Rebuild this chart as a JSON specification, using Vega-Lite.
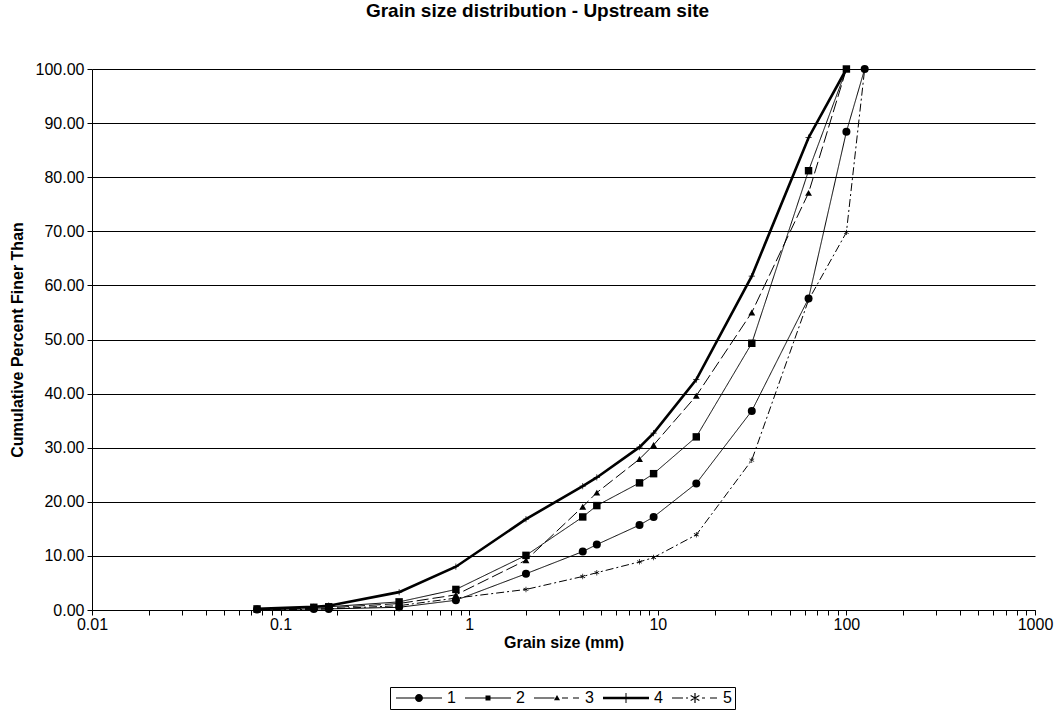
{
  "$schema": "https://vega.github.io/schema/vega-lite/v6.json",
  "width": 943,
  "height": 541,
  "autosize": {"type": "none"},
  "padding": {"left": 92, "top": 69, "right": 19, "bottom": 103},
  "background": "white",
  "config": {
    "font": "Liberation Sans",
    "view": {"stroke": null},
    "axis": {
      "labelFont": "Liberation Sans",
      "labelFontSize": 16,
      "labelColor": "black",
      "tickColor": "black",
      "domainColor": "black",
      "tickSize": 5,
      "labelPadding": 3,
      "titleFont": "Liberation Sans",
      "titleFontSize": 16,
      "titleFontWeight": "bold",
      "titleColor": "black"
    },
    "legend": {"labelFont": "Liberation Sans"}
  },
  "title": {
    "text": "Grain size distribution - Upstream site",
    "font": "Liberation Sans",
    "fontSize": 19,
    "fontWeight": "bold",
    "color": "black",
    "offset": 40,
    "dx": -26
  },
  "data": {
    "values": [
      {"size": 0.075, "series": "1", "pct": 0.1},
      {"size": 0.15, "series": "1", "pct": 0.2},
      {"size": 0.18, "series": "1", "pct": 0.2},
      {"size": 0.425, "series": "1", "pct": 0.5},
      {"size": 0.85, "series": "1", "pct": 1.8},
      {"size": 2, "series": "1", "pct": 6.7},
      {"size": 4, "series": "1", "pct": 10.8},
      {"size": 4.75, "series": "1", "pct": 12.1},
      {"size": 8, "series": "1", "pct": 15.7},
      {"size": 9.5, "series": "1", "pct": 17.2},
      {"size": 16, "series": "1", "pct": 23.4},
      {"size": 31.5, "series": "1", "pct": 36.8},
      {"size": 63, "series": "1", "pct": 57.6},
      {"size": 100, "series": "1", "pct": 88.4},
      {"size": 125, "series": "1", "pct": 100},

      {"size": 0.075, "series": "2", "pct": 0.2},
      {"size": 0.15, "series": "2", "pct": 0.5},
      {"size": 0.18, "series": "2", "pct": 0.6},
      {"size": 0.425, "series": "2", "pct": 1.5},
      {"size": 0.85, "series": "2", "pct": 3.8},
      {"size": 2, "series": "2", "pct": 10.1},
      {"size": 4, "series": "2", "pct": 17.2},
      {"size": 4.75, "series": "2", "pct": 19.3},
      {"size": 8, "series": "2", "pct": 23.5},
      {"size": 9.5, "series": "2", "pct": 25.2},
      {"size": 16, "series": "2", "pct": 32.0},
      {"size": 31.5, "series": "2", "pct": 49.3},
      {"size": 63, "series": "2", "pct": 81.2},
      {"size": 100, "series": "2", "pct": 100},

      {"size": 0.075, "series": "3", "pct": 0.1},
      {"size": 0.15, "series": "3", "pct": 0.3},
      {"size": 0.18, "series": "3", "pct": 0.4},
      {"size": 0.425, "series": "3", "pct": 1.2},
      {"size": 0.85, "series": "3", "pct": 2.8},
      {"size": 2, "series": "3", "pct": 9.2},
      {"size": 4, "series": "3", "pct": 19.1},
      {"size": 4.75, "series": "3", "pct": 21.7},
      {"size": 8, "series": "3", "pct": 27.9},
      {"size": 9.5, "series": "3", "pct": 30.5},
      {"size": 16, "series": "3", "pct": 39.6},
      {"size": 31.5, "series": "3", "pct": 55.0},
      {"size": 63, "series": "3", "pct": 77.1},
      {"size": 100, "series": "3", "pct": 100},

      {"size": 0.075, "series": "4", "pct": 0.2},
      {"size": 0.15, "series": "4", "pct": 0.6},
      {"size": 0.18, "series": "4", "pct": 0.8},
      {"size": 0.425, "series": "4", "pct": 3.3},
      {"size": 0.85, "series": "4", "pct": 8.0},
      {"size": 2, "series": "4", "pct": 16.8},
      {"size": 4, "series": "4", "pct": 22.9},
      {"size": 4.75, "series": "4", "pct": 24.5},
      {"size": 8, "series": "4", "pct": 30.1},
      {"size": 9.5, "series": "4", "pct": 32.7},
      {"size": 16, "series": "4", "pct": 42.6},
      {"size": 31.5, "series": "4", "pct": 61.7},
      {"size": 63, "series": "4", "pct": 87.3},
      {"size": 100, "series": "4", "pct": 100},

      {"size": 0.075, "series": "5", "pct": 0.1},
      {"size": 0.15, "series": "5", "pct": 0.1},
      {"size": 0.18, "series": "5", "pct": 0.2},
      {"size": 0.425, "series": "5", "pct": 0.8},
      {"size": 0.85, "series": "5", "pct": 2.2},
      {"size": 2, "series": "5", "pct": 3.8},
      {"size": 4, "series": "5", "pct": 6.2},
      {"size": 4.75, "series": "5", "pct": 6.9},
      {"size": 8, "series": "5", "pct": 8.9},
      {"size": 9.5, "series": "5", "pct": 9.7},
      {"size": 16, "series": "5", "pct": 13.9},
      {"size": 31.5, "series": "5", "pct": 27.7},
      {"size": 63, "series": "5", "pct": 57.3},
      {"size": 100, "series": "5", "pct": 69.8},
      {"size": 125, "series": "5", "pct": 100}
    ]
  },
  "encoding": {
    "x": {
      "field": "size",
      "type": "quantitative",
      "scale": {"type": "log", "domain": [0.01, 1000], "nice": false},
      "axis": {
        "title": "Grain size (mm)",
        "titlePadding": 2,
        "labelPadding": 1,
        "grid": false,
        "values": [0.01,0.02,0.03,0.04,0.05,0.06,0.07,0.08,0.09,0.1,0.2,0.3,0.4,0.5,0.6,0.7,0.8,0.9,1,2,3,4,5,6,7,8,9,10,20,30,40,50,60,70,80,90,100,200,300,400,500,600,700,800,900,1000],
        "format": "~g",
        "labelExpr": "indexof([0.01,0.1,1,10,100,1000], datum.value) >= 0 ? datum.label : ''",
        "labelOverlap": false,
        "labelFlush": false
      }
    },
    "y": {
      "field": "pct",
      "type": "quantitative",
      "scale": {"domain": [0, 100], "nice": false},
      "axis": {
        "title": "Cumulative Percent Finer Than",
        "titlePadding": 10,
        "values": [0,10,20,30,40,50,60,70,80,90,100],
        "format": ".2f",
        "grid": true,
        "gridColor": "black",
        "gridOpacity": 1,
        "gridWidth": 1
      }
    }
  },
  "layer": [
    {
      "transform": [{"filter": "datum.series != '4'"}],
      "mark": {"type": "line", "color": "black", "strokeWidth": 1},
      "encoding": {
        "strokeDash": {
          "field": "series",
          "type": "nominal",
          "scale": {"domain": ["1","2","3","4","5"], "range": [[1,0],[1,0],[12,4],[1,0],[8,3,2,3]]},
          "legend": null
        }
      }
    },
    {
      "transform": [{"filter": "datum.series == '4'"}],
      "mark": {"type": "line", "color": "black", "strokeWidth": 2.6},
      "encoding": {}
    },
    {
      "mark": {"type": "point", "filled": true, "color": "black", "fill": "black", "strokeWidth": 0, "opacity": 1},
      "encoding": {
        "shape": {
          "field": "series",
          "type": "nominal",
          "scale": {"domain": ["1","2","3","4","5"], "range": [
            "circle",
            "square",
            "triangle-up",
            "M-1,-0.11H1V0.11H-1ZM-0.11,-1H0.11V1H-0.11Z",
            "M-0.13,-1H0.13V1H-0.13ZM-0.805,-0.613L0.935,0.387L0.805,0.613L-0.935,-0.387ZM-0.935,0.387L0.805,-0.613L0.935,-0.387L-0.805,0.613Z"
          ]},
          "legend": null
        },
        "size": {
          "field": "series",
          "type": "nominal",
          "scale": {"domain": ["1","2","3","4","5"], "range": [64, 30, 34, 130, 140]},
          "legend": null
        }
      }
    },
    {
      "mark": {"type": "point", "filled": true, "color": "black", "fill": "black", "strokeWidth": 0, "opacity": 0},
      "encoding": {
        "shape": {
          "field": "series",
          "type": "nominal",
          "scale": {"domain": ["1","2","3","4","5"], "range": [
            "M-1,-0.1H8.2V0.1H-1ZM4.4,0A0.8,0.8,0,1,1,2.8,0A0.8,0.8,0,1,1,4.4,0Z",
            "M-1,-0.1H8.2V0.1H-1ZM3.1,-0.5H4.1V0.5H3.1Z",
            "M-1,-0.1H3.1V0.1H-1ZM3.6,-0.6L4.2,0.45H3.0ZM4.6,-0.1H5.8V0.1H4.6ZM6.8,-0.1H8.0V0.1H6.8Z",
            "M-1,-0.25H8.2V0.25H-1ZM3.5,-1H3.7V1H3.5Z",
            "M-1,-0.1H1.2V0.1H-1ZM1.8,-0.1H2.2V0.1H1.8ZM3.48,-1H3.72V1H3.48ZM2.78,-0.587L4.52,0.413L4.42,0.587L2.68,-0.413ZM2.68,0.413L4.42,-0.587L4.52,-0.413L2.78,0.587ZM5,-0.1H5.6V0.1H5ZM6.6,-0.1H8.0V0.1H6.6Z"
          ]},
          "legend": {
            "title": null,
            "orient": "none",
            "legendX": 298,
            "legendY": 618,
            "direction": "horizontal",
            "symbolSize": 100,
            "symbolOpacity": 1,
            "symbolFillColor": "black",
            "symbolStrokeWidth": 0,
            "labelFontSize": 16,
            "labelColor": "black",
            "labelOffset": 38,
            "strokeColor": "black",
            "padding": 3,
            "columnPadding": 6,
            "encode": {
              "symbols": {
                "update": {
                  "fill": {"value": "black"},
                  "fillOpacity": {"value": 1},
                  "opacity": {"value": 1}
                }
              }
            }
          }
        }
      }
    }
  ],
  "resolve": {"scale": {"shape": "independent"}}
}
